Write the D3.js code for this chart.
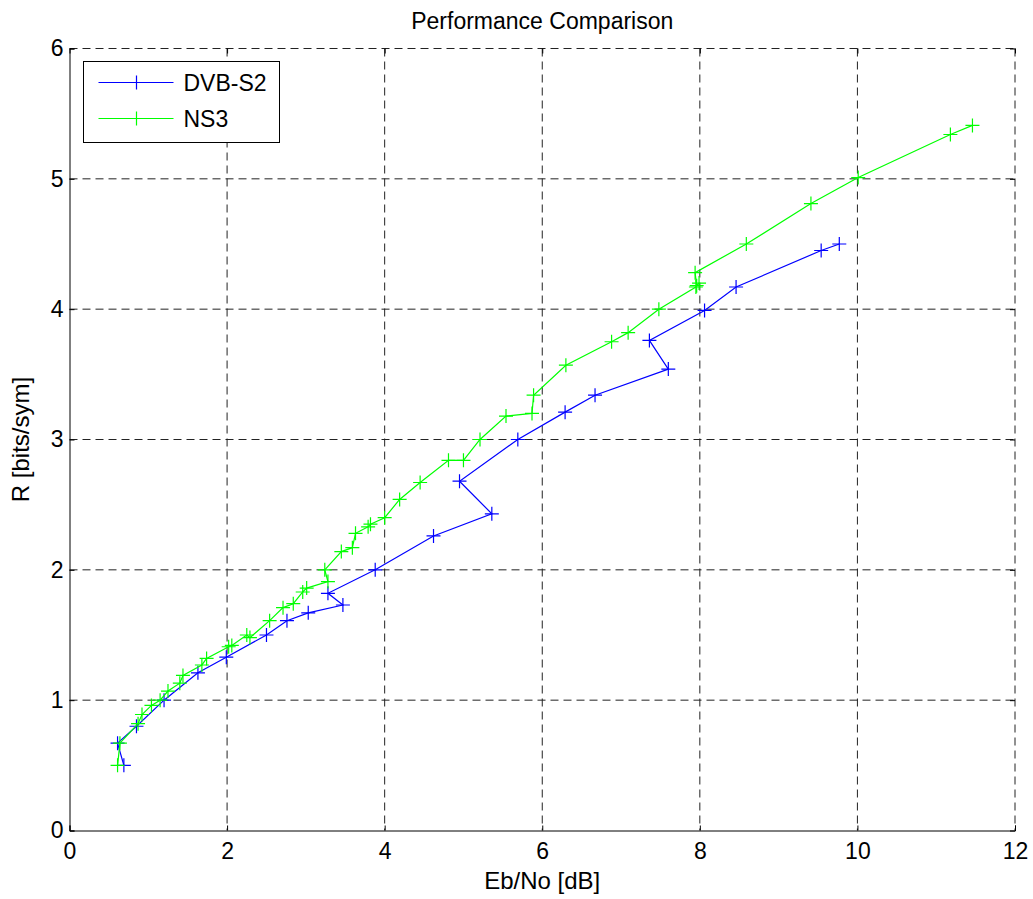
<!DOCTYPE html>
<html>
<head>
<meta charset="utf-8">
<script src="https://cdn.jsdelivr.net/npm/d3@7"></script>
<style>
  body { margin: 0; background: #fff; }
  text { font-family: "Liberation Sans", Arial, sans-serif; }
</style>
</head>
<body>
<div id="chart"></div>
<script>
// DATA
const xTicks = [0, 2, 4, 6, 8, 10, 12];
const yTicks = [0, 1, 2, 3, 4, 5, 6];

const dvbX = [0.69, 0.61, 0.85, 1.20, 1.63, 1.99, 2.50, 2.76, 3.03, 3.47, 3.28, 3.88, 4.62, 5.36, 4.95, 5.69, 6.29, 6.67, 7.60, 7.36, 8.06, 8.46, 9.54, 9.77];
const dvbY = [0.50, 0.67, 0.80, 1.00, 1.21, 1.33, 1.50, 1.61, 1.67, 1.73, 1.82, 2.00, 2.26, 2.43, 2.68, 3.00, 3.21, 3.34, 3.54, 3.76, 3.99, 4.17, 4.45, 4.50];

const ns3X = [0.61, 0.64, 0.87, 0.92, 1.04, 1.15, 1.25, 1.40, 1.44, 1.68, 1.74, 2.02, 2.06, 2.25, 2.29, 2.54, 2.71, 2.84, 2.96, 3.01, 3.28, 3.24, 3.45, 3.59, 3.63, 3.79, 3.82, 4.00, 4.19, 4.45, 4.81, 5.00, 5.21, 5.54, 5.87, 5.89, 6.30, 6.88, 7.09, 7.48, 7.95, 7.99, 7.96, 7.94, 8.59, 9.41, 10.01, 11.18, 11.46];
const ns3Y = [0.50, 0.67, 0.82, 0.89, 0.96, 1.00, 1.07, 1.13, 1.19, 1.27, 1.32, 1.41, 1.42, 1.50, 1.48, 1.61, 1.71, 1.74, 1.83, 1.86, 1.91, 2.00, 2.14, 2.17, 2.28, 2.33, 2.35, 2.40, 2.54, 2.67, 2.84, 2.84, 3.00, 3.18, 3.20, 3.34, 3.57, 3.75, 3.82, 4.00, 4.17, 4.20, 4.18, 4.28, 4.50, 4.81, 5.01, 5.34, 5.41];

const seriesNames = ["DVB-S2", "NS3"];
const seriesColors = ["#0000ff", "#00ff00"];

// SET GLOBAL VARIABLES
const W = 1033, H = 899;
const margin = { top: 48.5, right: 18, bottom: 68.5, left: 69.5 };
const width = W - margin.left - margin.right;
const height = H - margin.top - margin.bottom;

const svg = d3.select("#chart")
    .append("svg")
    .attr("width", W)
    .attr("height", H);

const g = svg.append("g")
    .attr("transform", `translate(${margin.left},${margin.top})`);

// Set scales
const x = d3.scaleLinear().domain([0, 12]).range([0, width]);
const y = d3.scaleLinear().domain([0, 6]).range([height, 0]);

// Grid lines
g.selectAll(".vgrid")
    .data(xTicks.slice(1, -1))
    .join("line")
    .attr("x1", d => x(d)).attr("x2", d => x(d))
    .attr("y1", 0).attr("y2", height)
    .attr("stroke", "#222").attr("stroke-width", 1)
    .attr("stroke-dasharray", "8,5");

g.selectAll(".hgrid")
    .data(yTicks.slice(1, -1))
    .join("line")
    .attr("x1", 0).attr("x2", width)
    .attr("y1", d => y(d)).attr("y2", d => y(d))
    .attr("stroke", "#222").attr("stroke-width", 1)
    .attr("stroke-dasharray", "8,5");

// top and right edges are dashed like the grid
g.append("line")
    .attr("x1", 0).attr("x2", width)
    .attr("y1", 0).attr("y2", 0)
    .attr("stroke", "#222").attr("stroke-dasharray", "8,5");
g.append("line")
    .attr("x1", width).attr("x2", width)
    .attr("y1", 0).attr("y2", height)
    .attr("stroke", "#222").attr("stroke-dasharray", "8,5");

// Draw axes (ticks inside)
const xAxis = g.append("g")
    .attr("transform", `translate(0,${height})`)
    .call(d3.axisBottom(x).tickValues(xTicks).tickSize(-5).tickFormat(d3.format("d")));
const yAxis = g.append("g")
    .call(d3.axisLeft(y).tickValues(yTicks).tickSize(-5).tickPadding(6).tickFormat(d3.format("d")));
g.append("g")
    .call(d3.axisTop(x).tickValues(xTicks).tickSize(-5).tickFormat(""))
    .select(".domain").remove();
g.append("g")
    .attr("transform", `translate(${width},0)`)
    .call(d3.axisRight(y).tickValues(yTicks).tickSize(-5).tickFormat(""))
    .select(".domain").remove();

[xAxis, yAxis].forEach(a => {
    a.selectAll("text").style("font-size", "23px").attr("fill", "#000");
    a.select(".domain").attr("stroke", "#000");
});
xAxis.selectAll("text").attr("dy", "0.71em").attr("y", 12);

// Lines and markers
const line = d3.line().x(d => x(d[0])).y(d => y(d[1]));
const series = [
    d3.zip(dvbX, dvbY),
    d3.zip(ns3X, ns3Y)
];

series.forEach((pts, i) => {
    g.append("path")
        .datum(pts)
        .attr("fill", "none")
        .attr("stroke", seriesColors[i])
        .attr("stroke-width", 1.2)
        .attr("d", line);
    const m = 7;
    g.append("g").selectAll("path")
        .data(pts)
        .join("path")
        .attr("d", d => `M${x(d[0]) - m},${y(d[1])}H${x(d[0]) + m}M${x(d[0])},${y(d[1]) - m}V${y(d[1]) + m}`)
        .attr("stroke", seriesColors[i])
        .attr("stroke-width", 1.2)
        .attr("fill", "none");
});

// Title and axis labels
svg.append("text")
    .attr("x", margin.left + width / 2)
    .attr("y", 29)
    .attr("text-anchor", "middle")
    .style("font-size", "23px")
    .text("Performance Comparison");

svg.append("text")
    .attr("x", margin.left + width / 2)
    .attr("y", 889)
    .attr("text-anchor", "middle")
    .style("font-size", "24px")
    .text("Eb/No [dB]");

svg.append("text")
    .attr("transform", `translate(29,${margin.top + height / 2}) rotate(-90)`)
    .attr("text-anchor", "middle")
    .style("font-size", "24px")
    .text("R [bits/sym]");

// Legend
const legend = svg.append("g").attr("transform", "translate(83.5,61.5)");
legend.append("rect")
    .attr("width", 196).attr("height", 81)
    .attr("fill", "#fff").attr("stroke", "#000");
seriesNames.forEach((name, i) => {
    const ly = 21 + i * 36;
    legend.append("line")
        .attr("x1", 15).attr("x2", 90)
        .attr("y1", ly).attr("y2", ly)
        .attr("stroke", seriesColors[i]).attr("stroke-width", 1.2);
    legend.append("path")
        .attr("d", `M46,${ly}H60M53,${ly - 7}V${ly + 7}`)
        .attr("stroke", seriesColors[i]).attr("stroke-width", 1.2);
    legend.append("text")
        .attr("x", 100).attr("y", ly)
        .attr("dy", "0.35em")
        .style("font-size", "23px")
        .text(name);
});
</script>
</body>
</html>
